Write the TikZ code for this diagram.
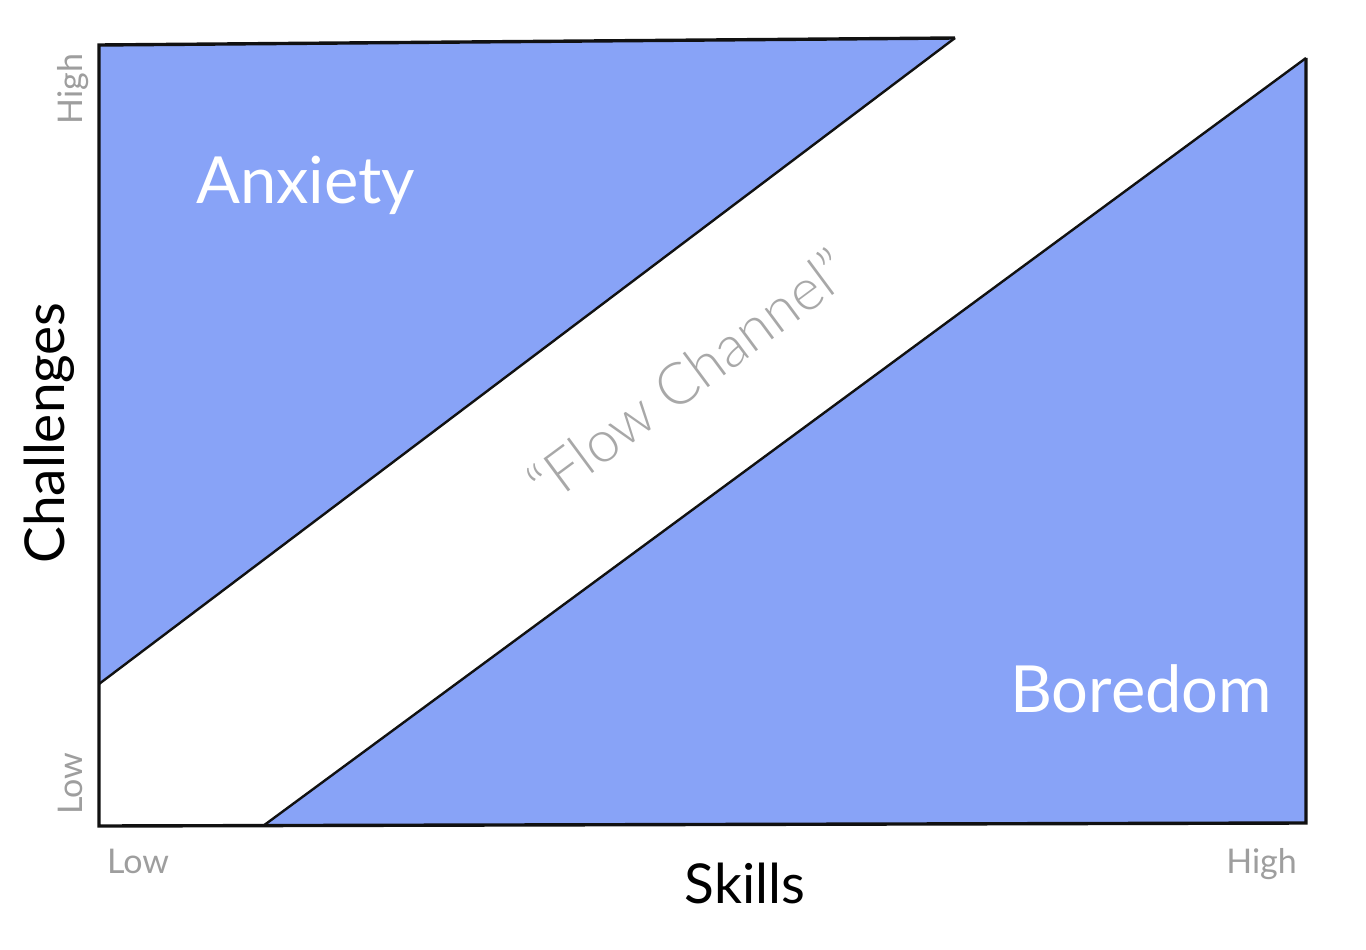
\documentclass[tikz,border=0pt]{standalone}
\usepackage{fontspec}
\setmainfont{Lato}
\newfontfamily\lightfont{Lato Light}
\usepackage{tikz}
\usetikzlibrary{positioning}
\definecolor{cZone}{HTML}{88A3F7}
\definecolor{cInk}{HTML}{111111}
\definecolor{cTick}{HTML}{9E9E9E}
\definecolor{cFlow}{HTML}{A8A8A8}
\tikzset{
  zone/.style      = {fill=cZone},
  frame/.style     = {draw=cInk, line width=3.4pt, line join=miter},
  border/.style    = {draw=cInk, line width=2.4pt},
  zonelabel/.style = {text=white, inner sep=0pt, font=\fontsize{65}{70}\selectfont},
  axislabel/.style = {text=black, inner sep=0pt, font=\fontsize{55}{60}\selectfont},
  tick/.style      = {text=cTick, inner sep=0pt, font=\fontsize{34}{40}\selectfont},
  channel/.style   = {text=cFlow, inner sep=0pt, font=\lightfont\fontsize{58}{60}\selectfont},
}
\begin{document}
\begin{tikzpicture}[x=1pt, y=-1pt]
  \useasboundingbox (0,0) rectangle (1366,950);
  % corners of the chart
  \coordinate (tl) at (99,45);
  \coordinate (bl) at (99,826);
  \coordinate (br) at (1306,823);
  \coordinate (tr) at (1306,58);
  \coordinate (anxtop) at (955,38);
  \coordinate (anxlow) at (99,684);
  \coordinate (borlow) at (263,826);
  % zones
  \fill[zone] (tl) -- (anxtop) -- (anxlow) -- cycle;
  \fill[zone] (borlow) -- (tr) -- (br) -- cycle;
  \draw[border] (anxlow) -- (anxtop);
  \draw[border] (borlow) -- (tr);
  \draw[frame] (anxtop) -- (tl) -- (bl) -- (br) -- (tr);
  % labels
  \node[zonelabel, anchor=base west] (anxiety) at (196,203) {Anxiety};
  \node[zonelabel, anchor=base west] (boredom) at (1010,712) {Boredom};
  \node[channel, rotate=36.5] (flow) at (688,376) {“Flow Channel”};
  \node[axislabel, anchor=base] (skills) at (745,903) {Skills};
  \node[axislabel, anchor=base, rotate=90] (challenges) at (64,433) {Challenges};
  \node[tick, anchor=base west] (skilllow) at (107,873) {Low};
  \node[tick, anchor=base east] (skillhigh) at (1297,873) {High};
  \node[tick, anchor=base, rotate=90] (challow) at (82,784) {Low};
  \node[tick, anchor=base, rotate=90] (chalhigh) at (82,89) {High};
\end{tikzpicture}
\end{document}
